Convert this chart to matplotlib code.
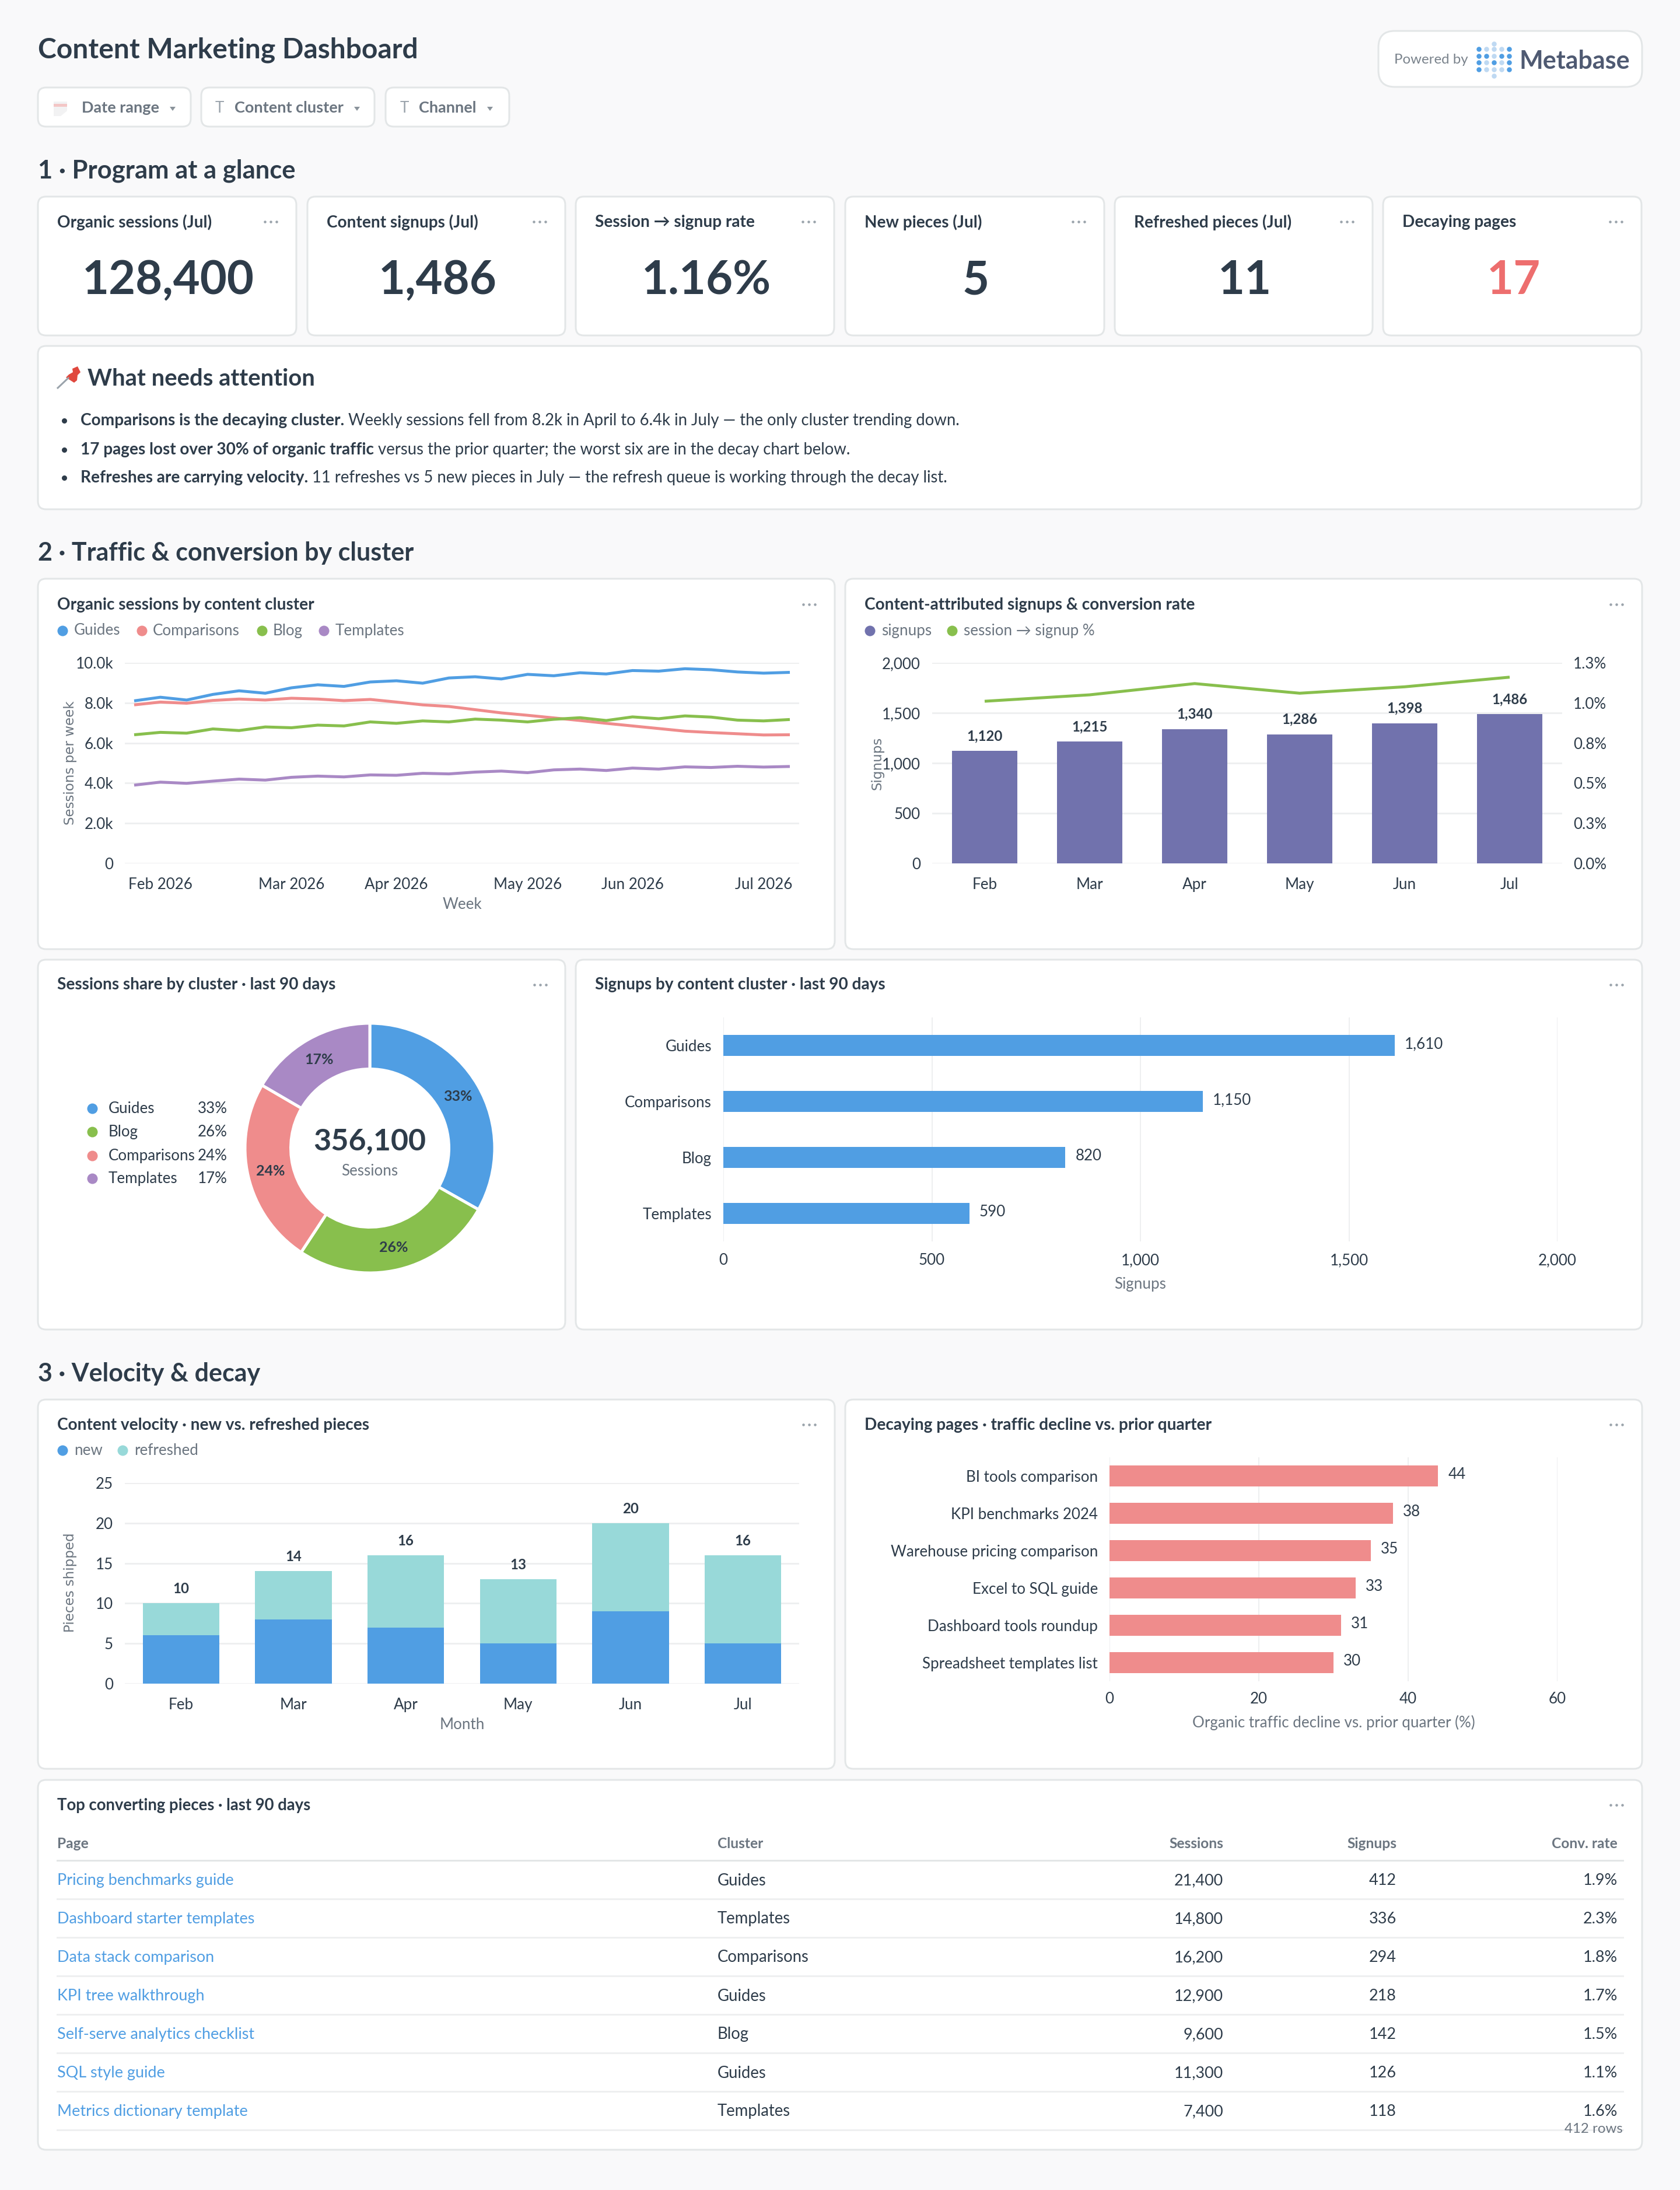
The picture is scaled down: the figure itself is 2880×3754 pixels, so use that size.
import matplotlib
matplotlib.use("Agg")
import matplotlib.pyplot as plt
from matplotlib.patches import FancyBboxPatch, Polygon

plt.rcParams['font.family'] = ['Lato', 'DejaVu Sans']

W, H, DPI = 2880, 3754, 100

# Colours
BLUE = '#509EE3'
PINK = '#EF8C8C'
GREEN = '#88BF4D'
PURPLE = '#A989C5'
TEAL = '#98D9D9'
INDIGO = '#7172AD'
RED = '#ED6E6E'
DARK = '#2E3C4A'
GRAY = '#6B7580'
GRID = '#EEEFF0'
BORDER = '#E3E6E7'

# KPI row
kpi_titles = ['Organic sessions (Jul)', 'Content signups (Jul)', 'Session → signup rate',
              'New pieces (Jul)', 'Refreshed pieces (Jul)', 'Decaying pages']
kpi_values = ['128,400', '1,486', '1.16%', '5', '11', '17']

# Weekly sessions, in thousands
week_ticks = [1, 6, 10, 15, 19, 24]
week_labels = ['Feb 2026', 'Mar 2026', 'Apr 2026', 'May 2026', 'Jun 2026', 'Jul 2026']
guides = [8.10, 8.28, 8.14, 8.42, 8.60, 8.48, 8.75, 8.90, 8.82, 9.04, 9.10, 8.98, 9.24,
          9.30, 9.19, 9.42, 9.35, 9.50, 9.44, 9.61, 9.58, 9.70, 9.65, 9.54, 9.48, 9.52]
comparisons = [7.90, 8.04, 7.98, 8.12, 8.19, 8.14, 8.23, 8.19, 8.11, 8.17, 8.04, 7.90, 7.82,
               7.66, 7.50, 7.38, 7.25, 7.12, 6.98, 6.85, 6.72, 6.59, 6.52, 6.46, 6.40, 6.41]
blog = [6.41, 6.53, 6.49, 6.70, 6.62, 6.80, 6.76, 6.89, 6.85, 7.05, 6.98, 7.10, 7.05,
        7.19, 7.14, 7.05, 7.18, 7.26, 7.12, 7.30, 7.21, 7.35, 7.29, 7.14, 7.10, 7.17]
templates = [3.90, 4.05, 3.99, 4.10, 4.20, 4.15, 4.29, 4.35, 4.31, 4.41, 4.39, 4.49, 4.46,
             4.55, 4.60, 4.52, 4.66, 4.70, 4.63, 4.75, 4.70, 4.81, 4.78, 4.84, 4.80, 4.83]

# Monthly
months = ['Feb', 'Mar', 'Apr', 'May', 'Jun', 'Jul']
signups = [1120, 1215, 1340, 1286, 1398, 1486]
conv_rate = [1.01, 1.05, 1.12, 1.06, 1.10, 1.16]
new_pieces = [6, 8, 7, 5, 9, 5]
refreshed_pieces = [4, 6, 9, 8, 11, 11]

# Donut
donut_names = ['Guides', 'Blog', 'Comparisons', 'Templates']
donut_values = [118200, 92900, 85900, 59100]
donut_colors = [BLUE, GREEN, PINK, PURPLE]

# Signups by cluster
cluster_names = ['Guides', 'Comparisons', 'Blog', 'Templates']
cluster_signups = [1610, 1150, 820, 590]

# Decaying pages
decay_pages = ['BI tools comparison', 'KPI benchmarks 2024', 'Warehouse pricing comparison',
               'Excel to SQL guide', 'Dashboard tools roundup', 'Spreadsheet templates list']
decay_pct = [44, 38, 35, 33, 31, 30]

# Table
table_pages = ['Pricing benchmarks guide', 'Dashboard starter templates', 'Data stack comparison',
               'KPI tree walkthrough', 'Self-serve analytics checklist', 'SQL style guide',
               'Metrics dictionary template']
table_clusters = ['Guides', 'Templates', 'Comparisons', 'Guides', 'Blog', 'Guides', 'Templates']
table_sessions = ['21,400', '14,800', '16,200', '12,900', '9,600', '11,300', '7,400']
table_signups = ['412', '336', '294', '218', '142', '126', '118']
table_rates = ['1.9%', '2.3%', '1.8%', '1.7%', '1.5%', '1.1%', '1.6%']

# Bullets: (bold part, regular part)
bullets = [
    ('Comparisons is the decaying cluster.',
     'Weekly sessions fell from 8.2k in April to 6.4k in July — the only cluster trending down.'),
    ('17 pages lost over 30% of organic traffic',
     'versus the prior quarter; the worst six are in the decay chart below.'),
    ('Refreshes are carrying velocity.',
     '11 refreshes vs 5 new pieces in July — the refresh queue is working through the decay list.'),
]


def pt(n):
    # pixels in the png to points
    return n * 72 / DPI


fig = plt.figure(figsize=(W / DPI, H / DPI), dpi=DPI, facecolor='#F9F9FA')
bg = fig.add_axes([0, 0, 1, 1])
bg.set_xlim(0, W)
bg.set_ylim(H, 0)
bg.axis('off')


def label(x, y, s, size=24, color=DARK, weight='normal', ha='left', va='center', **kw):
    return bg.text(x, y, s, fontsize=pt(size), color=color, fontweight=weight, ha=ha, va=va, **kw)


def card(x0, y0, x1, y1, r=14, ec=BORDER):
    bg.add_patch(FancyBboxPatch((x0, y0), x1 - x0, y1 - y0, boxstyle=f'round,pad=0,rounding_size={r}',
                                fc='white', ec=ec, lw=pt(3)))


def dots(x, y):
    # the card menu
    bg.scatter([x - 10, x, x + 10], [y, y, y], s=pt(4.5) ** 2, color='#9AA3AB', linewidths=0)


def legend_dot(x, y, color, d=18):
    bg.scatter([x], [y], s=pt(d) ** 2, color=color, linewidths=0)


def chart_axes(x0, y0, x1, y1):
    ax = fig.add_axes([x0 / W, 1 - y1 / H, (x1 - x0) / W, (y1 - y0) / H])
    ax.patch.set_alpha(0)
    for s in ax.spines.values():
        s.set_visible(False)
    ax.tick_params(length=0, labelsize=pt(26), labelcolor=DARK)
    ax.set_axisbelow(True)
    return ax


def hgrid(ax):
    ax.grid(axis='y', color=GRID, lw=pt(3))
    ax.tick_params(axis='y', pad=pt(20))
    ax.tick_params(axis='x', pad=pt(24))


# Header
label(65, 86, 'Content Marketing Dashboard', 48, weight='bold')
for x0, x1, name, tx, cx in [(65, 327, 'Date range', 140, 296), (345, 642, 'Content cluster', 402, 612),
                             (661, 873, 'Channel', 718, 840)]:
    card(x0, 150, x1, 217, r=14)
    label(tx, 185, name, 27, color=GRAY, weight='bold')
    bg.add_patch(Polygon([(cx - 5, 183), (cx + 5, 183), (cx, 190)], fc='#8A939B', ec='none'))
label(376, 185, 'T', 26, color='#9AA3AB', ha='center')
label(693, 185, 'T', 26, color='#9AA3AB', ha='center')
# calendar icon
bg.add_patch(Polygon([(92, 174), (115, 174), (115, 190), (104, 199), (92, 199)], fc='#F2F2F3', ec='none'))
bg.add_patch(Polygon([(92, 178), (115, 178), (115, 183), (92, 183)], fc='#F3C6C6', ec='none'))

# Powered by badge
card(2363, 53, 2815, 149, r=28)
label(2390, 102, 'Powered by', 24, color='#7A838C')
label(2604, 105, 'Metabase', 43, color='#4F5A72', weight='bold')
logo = ['DLLLD', 'DDLDD', 'DLDLD', 'DLLLD']
for r, row in enumerate(logo):
    for c, k in enumerate(row):
        bg.scatter([2535 + c * 13], [84 + r * 11.7], s=pt(8.5) ** 2, linewidths=0,
                   color=BLUE if k == 'D' else '#BFD9F2')
bg.scatter([2561, 2561], [75, 130], s=pt(8.5) ** 2, color='#BFD9F2', linewidths=0)

# Section 1
label(65, 293, '1 · Program at a glance', 43.5, weight='bold')
kpi_boxes = [(65, 508), (527, 969), (987, 1430), (1449, 1893), (1911, 2353), (2371, 2814)]
for (x0, x1), t, v in zip(kpi_boxes, kpi_titles, kpi_values):
    card(x0, 337, x1, 575)
    label(x0 + 33, 381, t, 28, weight='bold')
    dots(x1 - 44, 380)
    label((x0 + x1) / 2 + 2, 481, v, 79.5, weight='bold', color=RED if v == '17' else DARK, ha='center')

# What needs attention
card(65, 593, 2814, 873)
label(150, 649, 'What needs attention', 40, weight='bold')
bg.plot([99, 117], [665, 648], color='#9AA3AB', lw=pt(3))
bg.add_patch(Polygon([(124, 632), (133, 628), (138, 638), (133, 643), (132, 652), (127, 656),
                      (113, 647), (118, 642), (125, 638)], fc='#E0483E', ec='none'))
renderer = fig.canvas.get_renderer()
for y, (b, rest) in zip([721, 771, 819], bullets):
    bg.scatter([110], [y], s=pt(9) ** 2, color=DARK, linewidths=0)
    t = label(138, y, b, 28, weight='bold')
    x_end = t.get_window_extent(renderer).x1
    label(x_end + 7, y, rest, 27.5)

# Section 2
label(65, 948, '2 · Traffic & conversion by cluster', 43, weight='bold')

# Organic sessions
card(65, 992, 1431, 1627)
label(98, 1037, 'Organic sessions by content cluster', 28, weight='bold')
dots(1387, 1036)
for dx, tx, name, col in [(107, 127, 'Guides', BLUE), (243, 262, 'Comparisons', PINK),
                          (449, 468, 'Blog', GREEN), (555, 575, 'Templates', PURPLE)]:
    legend_dot(dx, 1081, col)
    label(tx, 1081, name, 26, color=GRAY)
ax = chart_axes(214, 1136, 1370, 1480)
hgrid(ax)
for series, col in [(guides, BLUE), (comparisons, PINK), (blog, GREEN), (templates, PURPLE)]:
    ax.plot(range(len(series)), series, color=col, lw=pt(5), solid_capstyle='butt')
ax.set_ylim(0, 10)
ax.set_xlim(-16 / 45, 25 + 16 / 45)
ax.set_yticks([0, 2, 4, 6, 8, 10], ['0', '2.0k', '4.0k', '6.0k', '8.0k', '10.0k'])
ax.set_xticks(week_ticks, week_labels)
label(120, 1308, 'Sessions per week', 23, color=GRAY, family='DejaVu Sans', rotation=90, ha='center')
label(792, 1550, 'Week', 26, color=GRAY, ha='center')

# Signups & conversion
card(1449, 992, 2815, 1627)
label(1482, 1037, 'Content-attributed signups & conversion rate', 28, weight='bold')
dots(2771, 1036)
legend_dot(1491, 1081, INDIGO)
label(1511, 1081, 'signups', 26, color=GRAY)
legend_dot(1632, 1081, GREEN)
label(1652, 1081, 'session → signup %', 26, color=GRAY)
ax = chart_axes(1598, 1136, 2678, 1480)
hgrid(ax)
ax.bar(months, signups, width=0.62, color=INDIGO)
for i, v in enumerate(signups):
    ax.annotate(f'{v:,}', (i, v), xytext=(0, pt(14)), textcoords='offset points', ha='center',
                va='bottom', fontsize=pt(24), color=DARK, fontweight='bold')
ax.set_ylim(0, 2000)
ax.set_xlim(-0.5, 5.5)
ax.set_yticks([0, 500, 1000, 1500, 2000], ['0', '500', '1,000', '1,500', '2,000'])
ax2 = ax.twinx()
ax2.patch.set_alpha(0)
for s in ax2.spines.values():
    s.set_visible(False)
ax2.plot(months, conv_rate, color=GREEN, lw=pt(5), solid_capstyle='butt')
ax2.set_ylim(0, 1.25)
ax2.set_yticks([0, 0.25, 0.5, 0.75, 1, 1.25], ['0.0%', '0.3%', '0.5%', '0.8%', '1.0%', '1.3%'])
ax2.tick_params(length=0, labelsize=pt(26), labelcolor=DARK, pad=pt(19))
label(1504, 1308, 'Signups', 23, color=GRAY, family='DejaVu Sans', rotation=90, ha='center')

# Donut
card(65, 1645, 969, 2279)
label(98, 1688, 'Sessions share by cluster · last 90 days', 28, weight='bold')
dots(926, 1688)
for y, name, col, v in zip([1900, 1940, 1981, 2020], donut_names, donut_colors, donut_values):
    legend_dot(158, y, col)
    label(186, y, name, 26)
    label(390, y, f'{100 * v / sum(donut_values):.0f}%', 26, ha='right')
half = 214 * 1.05
ax = chart_axes(634 - half, 1968 - half, 634 + half, 1968 + half)
wedges, _, pcts = ax.pie(donut_values, colors=donut_colors, startangle=90, counterclock=False,
                         wedgeprops=dict(width=1 - 135.5 / 214, edgecolor='white', linewidth=pt(5)),
                         autopct=lambda p: f'{p:.0f}%', pctdistance=175 / 214)
for t in pcts:
    t.set_fontsize(pt(25))
    t.set_color(DARK)
    t.set_fontweight('bold')
ax.set_xlim(-1.05, 1.05)
ax.set_ylim(-1.05, 1.05)
label(634, 1957, f'{sum(donut_values):,}', 52, weight='bold', ha='center')
label(634, 2007, 'Sessions', 26, color=GRAY, ha='center')

# Signups by cluster
card(987, 1645, 2815, 2279)
label(1020, 1688, 'Signups by content cluster · last 90 days', 28, weight='bold')
dots(2771, 1688)
ax = chart_axes(1240, 1744, 2670, 2128)
ax.grid(axis='x', color=GRID, lw=pt(2))
ax.tick_params(axis='x', pad=pt(20))
ax.tick_params(axis='y', pad=pt(20))
ax.barh(cluster_names, cluster_signups, height=0.375, color=BLUE)
for i, v in enumerate(cluster_signups):
    ax.annotate(f'{v:,}', (v, i), xytext=(pt(17), pt(2.5)), textcoords='offset points', ha='left',
                va='center', fontsize=pt(26), color=DARK)
ax.set_xlim(0, 2000)
ax.set_ylim(3.5, -0.5)
ax.set_xticks([0, 500, 1000, 1500, 2000], ['0', '500', '1,000', '1,500', '2,000'])
label(1955, 2201, 'Signups', 26, color=GRAY, ha='center')

# Section 3
label(65, 2355, '3 · Velocity & decay', 43, weight='bold')

# Velocity
card(65, 2399, 1431, 3032)
label(98, 2443, 'Content velocity · new vs. refreshed pieces', 28, weight='bold')
dots(1387, 2442)
legend_dot(107, 2486, BLUE)
label(127, 2486, 'new', 26, color=GRAY)
legend_dot(210, 2486, TEAL)
label(230, 2486, 'refreshed', 26, color=GRAY)
ax = chart_axes(214, 2542, 1370, 2886)
hgrid(ax)
ax.bar(months, new_pieces, width=0.68, color=BLUE)
ax.bar(months, refreshed_pieces, width=0.68, bottom=new_pieces, color=TEAL)
for i, (a, b) in enumerate(zip(new_pieces, refreshed_pieces)):
    ax.annotate(str(a + b), (i, a + b), xytext=(0, pt(13)), textcoords='offset points', ha='center',
                va='bottom', fontsize=pt(24), color=DARK, fontweight='bold')
ax.set_ylim(0, 25)
ax.set_xlim(-0.5, 5.5)
ax.set_yticks([0, 5, 10, 15, 20, 25])
label(120, 2713, 'Pieces shipped', 23, color=GRAY, family='DejaVu Sans', rotation=90, ha='center')
label(792, 2957, 'Month', 26, color=GRAY, ha='center')

# Decay
card(1449, 2399, 2815, 3032)
label(1482, 2443, 'Decaying pages · traffic decline vs. prior quarter', 28, weight='bold')
dots(2771, 2442)
ax = chart_axes(1902, 2498, 2670, 2882)
ax.grid(axis='x', color=GRID, lw=pt(2))
ax.tick_params(axis='x', pad=pt(18))
ax.tick_params(axis='y', pad=pt(20))
ax.barh(decay_pages, decay_pct, height=0.5625, color=PINK)
for i, v in enumerate(decay_pct):
    ax.annotate(str(v), (v, i), xytext=(pt(17), pt(2.5)), textcoords='offset points', ha='left',
                va='center', fontsize=pt(26), color=DARK)
ax.set_xlim(0, 60)
ax.set_ylim(5.5, -0.5)
ax.set_xticks([0, 20, 40, 60])
label(2286, 2953, 'Organic traffic decline vs. prior quarter (%)', 26, color=GRAY, ha='center')

# Table
card(65, 3051, 2815, 3685)
label(98, 3095, 'Top converting pieces · last 90 days', 27.5, weight='bold')
dots(2771, 3094)
for x, name, ha in [(98, 'Page', 'left'), (1230, 'Cluster', 'left'), (2097, 'Sessions', 'right'),
                    (2394, 'Signups', 'right'), (2773, 'Conv. rate', 'right')]:
    label(x, 3160, name, 24.5, color=GRAY, weight='bold', ha=ha)
bg.plot([98, 2782], [3189, 3189], color='#E3E6E7', lw=pt(3))
for i in range(len(table_pages)):
    y = 3223.5 + 66 * i
    label(98, y, table_pages[i], 27, color=BLUE)
    label(1230, y, table_clusters[i], 27.5)
    label(2097, y, table_sessions[i], 27, ha='right')
    label(2394, y, table_signups[i], 27, ha='right')
    label(2773, y, table_rates[i], 27, ha='right')
    bg.plot([98, 2782], [y + 31] * 2, color='#EEEFF0', lw=pt(3))
label(2782, 3650, '412 rows', 24, color=GRAY, ha='right', zorder=5)

fig.savefig('out.png', dpi=DPI, facecolor=fig.get_facecolor())
